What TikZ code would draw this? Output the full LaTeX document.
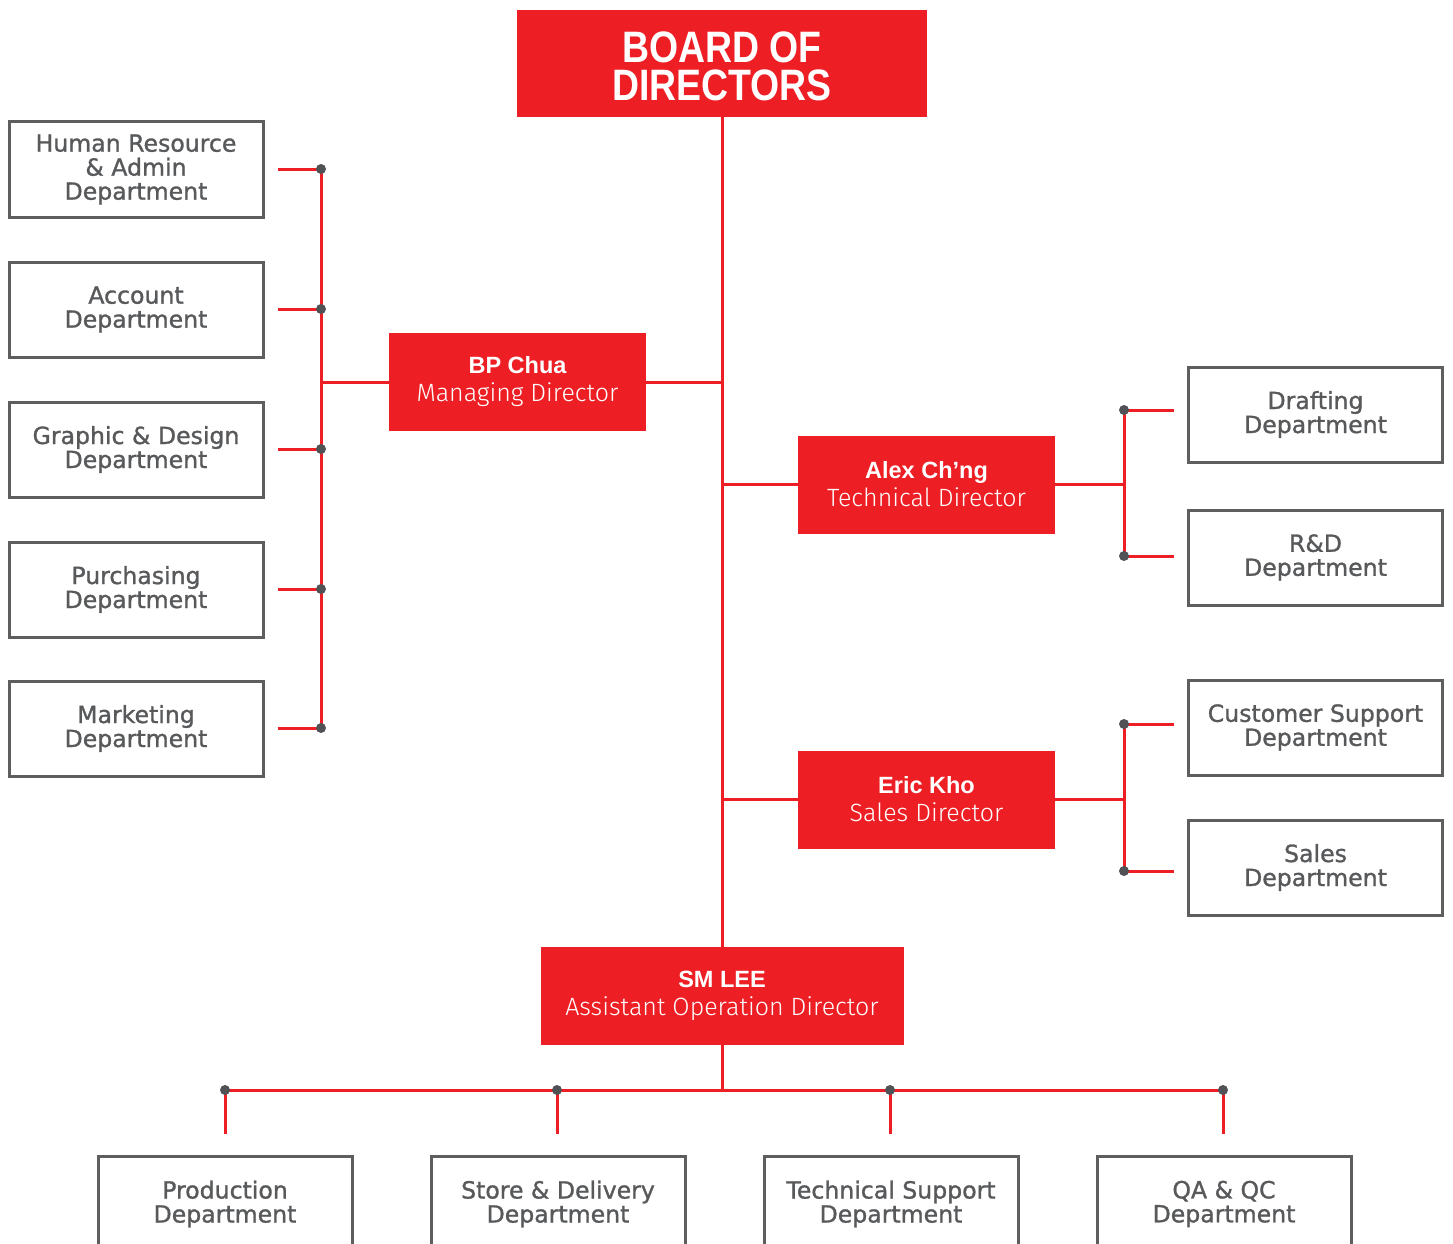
\documentclass[tikz,border=0pt]{standalone}
\usepackage{fontspec}
\setmainfont{DejaVu Sans}
\newfontfamily\deptfont[FakeBold=1.2]{DejaVu Sans}
\newfontfamily\namefont{Liberation Sans}
\newfontfamily\titlefont[FakeStretch=0.85]{Liberation Sans}
\newfontfamily\subfont{Fira Sans Light}
\definecolor{brandred}{HTML}{ED1F24}
\definecolor{boxgray}{HTML}{5E5E5E}
\definecolor{textgray}{HTML}{58595B}
\definecolor{dotgray}{HTML}{505256}
\newcommand\dirtext[2]{{\namefont\bfseries\fontsize{23.5}{28}\selectfont #1}\\{\subfont\fontsize{25}{28}\selectfont #2}}
\tikzset{
  redbox/.style={fill=brandred, text=white, inner sep=0pt, minimum width=257, minimum height=98, align=center, font=\fontsize{23}{28}\selectfont},
  dept/.style={draw=boxgray, line width=3pt, text=textgray, inner sep=0pt, minimum width=254, minimum height=95, align=center, font=\deptfont\fontsize{23.6}{24}\selectfont},
  conn/.style={draw=brandred, line width=3pt},
  dot/.style={fill=dotgray}
}
\begin{document}
\begin{tikzpicture}[x=1pt, y=-1pt]
\useasboundingbox (0,0) rectangle (1453,1244);
% top
\node[redbox, minimum width=410, minimum height=107, font=\titlefont\bfseries\fontsize{44}{38}\selectfont] (board) at (722,63.5) {\rule{0pt}{37pt}BOARD OF\\DIRECTORS};
% directors
\node[redbox] (bp) at (517.5,382) {\dirtext{BP Chua}{Managing Director}};
\node[redbox] (alex) at (926.5,484.5) {\dirtext{Alex Ch’ng}{Technical Director}};
\node[redbox] (eric) at (926.5,799.5) {\dirtext{Eric Kho}{Sales Director}};
\node[redbox, minimum width=363] (sm) at (722,996) {\dirtext{SM LEE}{Assistant Operation Director}};
% left departments
\node[dept] (hr) at (136,169.5) {Human Resource\\\& Admin\\Department};
\node[dept] (acc) at (136,309.5) {Account\\Department};
\node[dept] (gd) at (136,449.5) {Graphic \& Design\\Department};
\node[dept] (pur) at (136,589.5) {Purchasing\\Department};
\node[dept] (mkt) at (136,728.5) {Marketing\\Department};
% right departments
\node[dept] (draft) at (1315.5,414.5) {Drafting\\Department};
\node[dept] (rd) at (1315.5,557.5) {R\&D\\Department};
\node[dept] (cs) at (1315.5,727.5) {Customer Support\\Department};
\node[dept] (sales) at (1315.5,867.5) {Sales\\Department};
% bottom departments
\node[dept] (prod) at (225,1204) {Production\\Department};
\node[dept] (store) at (558,1204) {Store \& Delivery\\Department};
\node[dept] (tech) at (891,1204) {Technical Support\\Department};
\node[dept] (qa) at (1224,1204) {QA \& QC\\Department};
% junction coordinates
\coordinate (l1) at (321,169);
\coordinate (l2) at (321,309);
\coordinate (l3) at (321,449);
\coordinate (l4) at (321,589);
\coordinate (l5) at (321,728);
\coordinate (r1) at (1124,410);
\coordinate (r2) at (1124,556);
\coordinate (r3) at (1124,724);
\coordinate (r4) at (1124,871);
\coordinate (b1) at (225,1090);
\coordinate (b2) at (557,1090);
\coordinate (b3) at (890,1090);
\coordinate (b4) at (1223,1090);
\coordinate (bmid) at (722,1090);
% main spine
\draw[conn] (board.south) -- (sm.north);
\draw[conn] (sm.south) -- (bmid);
\draw[conn] (bp.east) -- (bp.east -| board.south);
\draw[conn] (alex.west) -- (alex.west -| board.south);
\draw[conn] (eric.west) -- (eric.west -| board.south);
% left bus
\draw[conn] (l1) -- (l5);
\draw[conn] (bp.west) -- (bp.west -| l1);
\draw[conn] ([xshift=13pt]hr.east |- l1) -- (l1);
\draw[conn] ([xshift=13pt]acc.east |- l2) -- (l2);
\draw[conn] ([xshift=13pt]gd.east |- l3) -- (l3);
\draw[conn] ([xshift=13pt]pur.east |- l4) -- (l4);
\draw[conn] ([xshift=13pt]mkt.east |- l5) -- (l5);
% right buses
\draw[conn] (r1) -- (r2);
\draw[conn] (alex.east) -- (alex.east -| r1);
\draw[conn] (r1) -- ([xshift=-13pt]draft.west |- r1);
\draw[conn] (r2) -- ([xshift=-13pt]rd.west |- r2);
\draw[conn] (r3) -- (r4);
\draw[conn] (eric.east) -- (eric.east -| r3);
\draw[conn] (r3) -- ([xshift=-13pt]cs.west |- r3);
\draw[conn] (r4) -- ([xshift=-13pt]sales.west |- r4);
% bottom bus
\draw[conn] (b1) -- (b4);
\draw[conn] (b1) -- ([yshift=21pt]prod.north -| b1);
\draw[conn] (b2) -- ([yshift=21pt]store.north -| b2);
\draw[conn] (b3) -- ([yshift=21pt]tech.north -| b3);
\draw[conn] (b4) -- ([yshift=21pt]qa.north -| b4);
% dots
\foreach \p in {l1,l2,l3,l4,l5,r1,r2,r3,r4,b1,b2,b3,b4}
  \fill[dot] (\p) circle (5);
\end{tikzpicture}
\end{document}
